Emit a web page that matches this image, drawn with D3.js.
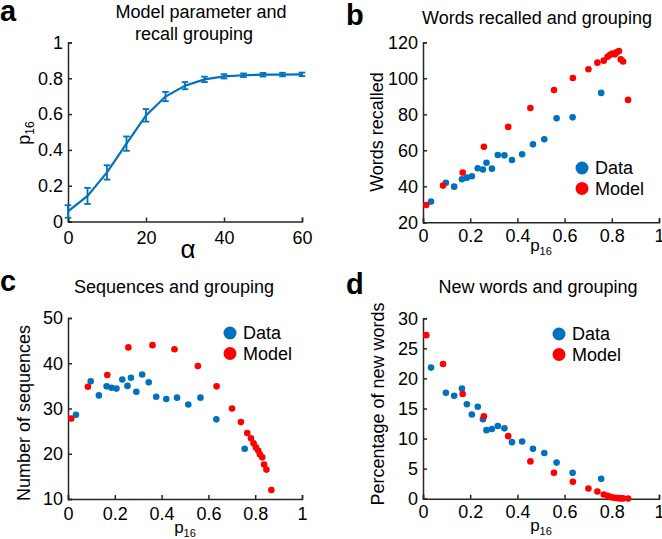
<!DOCTYPE html>
<html>
<head>
<meta charset="utf-8">
<script src="https://cdn.jsdelivr.net/npm/d3@7"></script>
<style>
  body { margin: 0; background: #fff; }
  svg text { font-family: "Liberation Sans", Arial, sans-serif; fill: #000; }
</style>
</head>
<body>
<svg id="fig" width="662" height="539"></svg>
<script>
// panel a: model parameter alpha vs p16
const alpha = [0, 5, 10, 15, 20, 25, 30, 35, 40, 45, 50, 55, 60];
const p16Mean = [0.056, 0.143, 0.274, 0.435, 0.593, 0.698, 0.759, 0.794, 0.811, 0.817, 0.820, 0.821, 0.822];
const p16Err = [0.035, 0.045, 0.04, 0.04, 0.035, 0.026, 0.02, 0.015, 0.012, 0.01, 0.01, 0.01, 0.01];

// participants (Data)
const dataP16 = [0.034, 0.097, 0.132, 0.165, 0.186, 0.207, 0.232, 0.254, 0.269, 0.292, 0.317, 0.345, 0.377, 0.420, 0.466, 0.514, 0.566, 0.634, 0.755];
const dataWords = [31.5, 42.0, 39.8, 43.9, 44.8, 45.6, 50.0, 49.3, 53.1, 49.8, 57.4, 57.2, 54.6, 57.8, 63.3, 66.1, 77.8, 78.3, 91.9];
const dataSeq = [28.6, 36.0, 32.9, 34.9, 34.6, 34.4, 36.4, 35.0, 36.8, 33.7, 37.5, 35.8, 32.6, 32.1, 32.4, 30.9, 32.4, 27.6, 21.1];
const dataNew = [21.8, 17.6, 17.1, 18.3, 15.7, 14.0, 15.3, 13.2, 11.4, 11.6, 12.1, 11.7, 9.4, 9.5, 8.3, 7.6, 6.0, 4.3, 3.3];

// model
const modelP16 = [0.014, 0.085, 0.168, 0.258, 0.361, 0.455, 0.555, 0.635, 0.701, 0.739, 0.766, 0.782, 0.793, 0.803, 0.813, 0.820, 0.830, 0.838, 0.848, 0.869];
const modelWords = [29.6, 40.4, 47.6, 62.0, 73.0, 83.5, 93.5, 100.2, 105.0, 108.7, 109.8, 112.0, 113.1, 113.7, 113.3, 114.4, 115.2, 110.5, 109.3, 88.0];
const modelSeq = [27.8, 34.8, 37.4, 43.5, 44.0, 43.1, 39.4, 34.9, 30.0, 27.0, 24.6, 23.4, 22.3, 21.4, 20.7, 19.9, 19.2, 17.6, 16.5, 12.0];
const modelNew = [27.2, 22.4, 17.4, 13.7, 10.4, 6.2, 4.3, 2.8, 1.7, 1.2, 0.7, 0.5, 0.3, 0.2, 0.15, 0.1, 0.1, 0.05, 0.05, 0.02];

// tick labels
const p16Ticks = [0, 0.2, 0.4, 0.6, 0.8, 1];
const alphaTicks = [0, 20, 40, 60];
const wordsTicks = [20, 40, 60, 80, 100, 120];
const seqTicks = [10, 20, 30, 40, 50];
const newTicks = [0, 5, 10, 15, 20, 25, 30];
const legendNames = ["Data", "Model"];

const BLUE = "#0072BD", RED = "#FF0000", AX = "#262626";
const svg = d3.select("#fig");

function axes(g, x, y, xt, yt, xpad) {
    const ax = g.append("g").attr("transform", `translate(0,${y.range()[0]})`)
        .call(d3.axisBottom(x).tickValues(xt).tickFormat(d => String(d)).tickSize(-4).tickPadding(xpad));
    const ay = g.append("g").attr("transform", `translate(${x.range()[0]},0)`)
        .call(d3.axisLeft(y).tickValues(yt).tickFormat(d => String(d)).tickSize(-4).tickPadding(5));
    [ax, ay].forEach(a => {
        a.selectAll("path, line").attr("stroke", AX).attr("stroke-width", 1.5);
        a.selectAll("text").style("font-size", "18px").attr("fill", "#000");
    });
}

function p16Label(g, cx, by) {
    const t = g.append("text").attr("x", cx).attr("y", by).attr("text-anchor", "middle").style("font-size", "17px");
    t.append("tspan").text("p");
    t.append("tspan").attr("dy", 4).style("font-size", "11px").text("16");
}

function ylabel(g, txt, x, cy) {
    g.append("text").attr("transform", `translate(${x},${cy}) rotate(-90)`)
        .attr("text-anchor", "middle").style("font-size", "18px").text(txt);
}

function letter(g, l, x, y) {
    g.append("text").attr("x", x).attr("y", y).style("font-size", "29px").style("font-weight", "bold").text(l);
}

function title(g, txt, cx, y) {
    g.append("text").attr("x", cx).attr("y", y).attr("text-anchor", "middle").style("font-size", "18px").text(txt);
}

function legend(g, x, y) {
    legendNames.forEach((n, i) => {
        g.append("circle").attr("cx", x).attr("cy", y + i * 20.5).attr("r", 6.5).attr("fill", i ? RED : BLUE);
        g.append("text").attr("x", x + 13).attr("y", y + i * 20.5).attr("dy", "0.35em").style("font-size", "18px").text(n);
    });
}

function scatter(g, x, y, xs, ys, col) {
    g.append("g").selectAll("circle").data(xs).join("circle")
        .attr("cx", d => x(d)).attr("cy", (d, i) => y(ys[i])).attr("r", 3.3).attr("fill", col);
}

// ---- panel a
{
    const g = svg.append("g");
    const x = d3.scaleLinear().domain([0, 60]).range([68, 302]);
    const y = d3.scaleLinear().domain([0, 1]).range([221.5, 42.5]);
    axes(g, x, y, alphaTicks, p16Ticks, 10);
    const line = d3.line().x((d, i) => x(alpha[i])).y(d => y(d));
    g.append("path").datum(p16Mean).attr("d", line).attr("fill", "none").attr("stroke", BLUE).attr("stroke-width", 2.2);
    const eb = g.append("g").attr("stroke", BLUE).attr("stroke-width", 1.8);
    alpha.forEach((a, i) => {
        const cx = x(a), y1 = y(p16Mean[i] - p16Err[i]), y2 = y(p16Mean[i] + p16Err[i]);
        eb.append("line").attr("x1", cx).attr("x2", cx).attr("y1", y1).attr("y2", y2);
        eb.append("line").attr("x1", cx - 3.3).attr("x2", cx + 3.3).attr("y1", y1).attr("y2", y1);
        eb.append("line").attr("x1", cx - 3.3).attr("x2", cx + 3.3).attr("y1", y2).attr("y2", y2);
    });
    letter(g, "a", 0, 21);
    title(g, "Model parameter and", 201, 18);
    title(g, "recall grouping", 194, 40);
    g.append("text").attr("x", 188).attr("y", 258).attr("text-anchor", "middle").style("font-size", "26px").text("α");
    // y label p16
    const t = g.append("text").attr("transform", "translate(30,133) rotate(-90)").attr("text-anchor", "middle").style("font-size", "18px");
    t.append("tspan").text("p");
    t.append("tspan").attr("dy", 4).style("font-size", "12px").text("16");
}

// ---- panel b
{
    const g = svg.append("g");
    const x = d3.scaleLinear().domain([0, 1]).range([423, 659]);
    const y = d3.scaleLinear().domain([20, 120]).range([222.3, 42.3]);
    axes(g, x, y, p16Ticks, wordsTicks, 7);
    scatter(g, x, y, dataP16, dataWords, BLUE);
    scatter(g, x, y, modelP16, modelWords, RED);
    letter(g, "b", 346, 25);
    title(g, "Words recalled and grouping", 537, 24);
    ylabel(g, "Words recalled", 383, 132);
    p16Label(g, 541, 251);
    legend(g, 582, 168);
}

// ---- panel c
{
    const g = svg.append("g");
    const x = d3.scaleLinear().domain([0, 1]).range([68, 302]);
    const y = d3.scaleLinear().domain([10, 50]).range([499, 318]);
    axes(g, x, y, p16Ticks, seqTicks, 8);
    scatter(g, x, y, dataP16, dataSeq, BLUE);
    scatter(g, x, y, modelP16, modelSeq, RED);
    letter(g, "c", 0, 291);
    title(g, "Sequences and grouping", 174, 293);
    ylabel(g, "Number of sequences", 30, 413);
    p16Label(g, 185, 533);
    legend(g, 230, 333);
}

// ---- panel d
{
    const g = svg.append("g");
    const x = d3.scaleLinear().domain([0, 1]).range([423, 659]);
    const y = d3.scaleLinear().domain([0, 30]).range([498.7, 318.3]);
    axes(g, x, y, p16Ticks, newTicks, 7);
    scatter(g, x, y, dataP16, dataNew, BLUE);
    scatter(g, x, y, modelP16, modelNew, RED);
    letter(g, "d", 346, 294);
    title(g, "New words and grouping", 538, 293);
    ylabel(g, "Percentage of new words", 384, 404);
    p16Label(g, 541, 531);
    legend(g, 559, 334);
}
</script>
</body>
</html>
